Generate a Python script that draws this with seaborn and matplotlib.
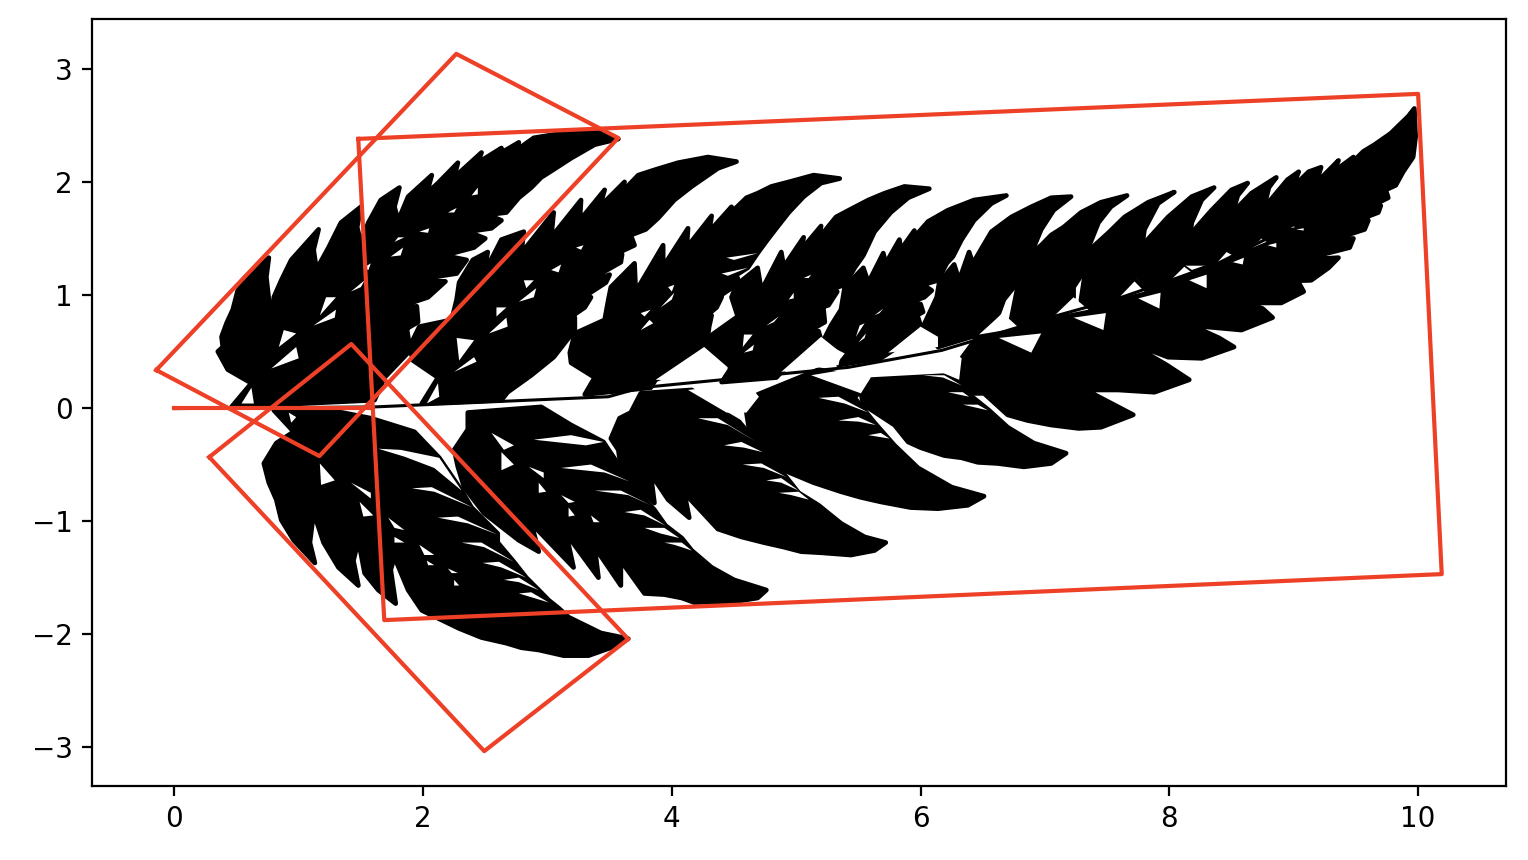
# Helecho: siluetas leidas a ojo de la imagen, en unidades de los ejes
import seaborn as sns
import matplotlib.pyplot as plt

RED = '#EE4027'

# Cuadrilateros rojos
box_main = [(1.479, 2.381), (10.0, 2.779), (10.19, -1.469), (1.688, -1.876)]
box_upper = [(-0.145, 0.336), (2.267, 3.133), (3.569, 2.389), (1.166, -0.425)]
box_lower = [(0.281, -0.434), (1.423, 0.566), (3.65, -2.044), (2.492, -3.035)]
box_stem = [(0.0, 0.0), (1.6, 0.0)]

# Nervio central
rachis = [(0, -0.005), (1.61, 0.01), (3.49, 0.10), (3.75, 0.18), (5.42, 0.36), (6.17, 0.51),
          (7.07, 0.81), (7.59, 0.97), (8.01, 1.13), (8.39, 1.28), (8.95, 1.59), (9.46, 1.93), (9.9, 2.45)]

# Frondas superiores
frond_a = [(0.46, 0.01), (0.62, 0.22), (0.54, 0.27), (0.43, 0.34), (0.35, 0.50), (0.39, 0.54), (0.38, 0.63),
           (0.42, 0.75), (0.47, 0.87), (0.51, 1.04), (0.62, 1.19), (0.76, 1.33), (0.74, 1.16), (0.76, 0.96),
           (0.80, 0.87), (0.80, 0.98), (0.86, 1.13), (0.94, 1.31), (1.16, 1.58), (1.12, 1.40), (1.14, 1.25),
           (1.21, 1.16), (1.17, 1.28), (1.24, 1.42), (1.34, 1.64), (1.50, 1.78), (1.47, 1.60), (1.50, 1.46),
           (1.56, 1.64), (1.66, 1.84), (1.81, 1.95), (1.77, 1.78), (1.80, 1.66), (1.88, 1.87), (2.07, 2.06),
           (2.03, 1.90), (2.12, 1.99), (2.28, 2.17), (2.25, 2.04), (2.47, 2.26), (2.44, 2.17), (2.63, 2.30),
           (2.60, 2.24), (2.77, 2.35), (2.75, 2.28), (2.89, 2.39), (3.11, 2.43), (3.41, 2.44), (3.57, 2.38),
           (3.38, 2.33), (3.19, 2.21), (3.05, 2.11), (2.95, 2.04), (2.87, 1.95), (2.77, 1.86), (2.67, 1.73),
           (2.52, 1.71), (2.63, 1.66), (2.55, 1.59), (2.36, 1.56), (2.50, 1.50), (2.41, 1.42), (2.17, 1.35),
           (2.35, 1.31), (2.27, 1.19), (1.91, 1.13), (2.18, 1.12), (2.04, 0.98), (1.66, 0.84), (1.95, 0.90),
           (1.96, 0.76), (1.61, 0.54), (1.87, 0.70), (1.89, 0.56), (1.88, 0.49), (1.69, 0.27), (1.61, 0.07)]
frond_b = [(1.99, 0.04), (2.12, 0.27), (1.92, 0.42), (1.89, 0.54), (1.97, 0.72), (2.23, 0.78), (2.27, 0.96),
           (2.29, 1.11), (2.40, 1.31), (2.52, 1.38), (2.49, 1.19), (2.63, 1.49), (2.81, 1.56), (2.79, 1.37),
           (3.05, 1.73), (3.03, 1.51), (3.27, 1.84), (3.26, 1.66), (3.46, 1.93), (3.42, 1.78), (3.62, 2.00),
           (3.59, 1.90), (3.73, 2.06), (3.87, 2.11), (4.05, 2.17), (4.29, 2.22), (4.52, 2.18), (4.37, 2.12),
           (4.16, 1.96), (4.02, 1.84), (3.89, 1.68), (3.79, 1.58), (3.41, 1.42), (3.68, 1.50), (3.70, 1.44),
           (3.33, 1.25), (3.60, 1.36), (3.59, 1.29), (3.19, 1.04), (3.50, 1.18), (3.47, 1.11), (3.01, 0.78),
           (3.35, 0.98), (3.30, 0.89), (2.77, 0.49), (3.22, 0.80), (3.22, 0.69), (3.05, 0.45), (2.87, 0.29),
           (2.68, 0.14), (2.63, 0.07)]
frond_c = [(3.30, 0.12), (3.38, 0.27), (3.19, 0.40), (3.18, 0.49), (3.22, 0.66), (3.46, 0.78), (3.49, 0.96),
           (3.51, 1.07), (3.70, 1.28), (3.71, 1.03), (3.93, 1.44), (3.93, 1.25), (4.13, 1.59), (4.12, 1.42),
           (4.32, 1.70), (4.30, 1.56), (4.48, 1.78), (4.44, 1.69), (4.60, 1.86), (4.69, 1.90), (4.80, 1.96),
           (4.94, 2.00), (5.14, 2.06), (5.35, 2.03), (5.20, 1.99), (5.06, 1.87), (4.94, 1.73), (4.84, 1.59),
           (4.77, 1.49), (4.69, 1.37), (4.61, 1.24), (4.26, 1.00), (4.53, 1.15), (4.52, 1.09), (4.10, 0.78),
           (4.40, 0.98), (4.36, 0.89), (3.94, 0.51), (4.32, 0.82), (4.30, 0.72), (4.28, 0.56), (4.16, 0.42),
           (4.02, 0.32), (3.87, 0.25), (3.83, 0.18)]
frond_d = [(4.40, 0.23), (4.48, 0.36), (4.38, 0.40), (4.28, 0.51), (4.30, 0.63), (4.53, 0.81), (4.48, 0.98),
           (4.52, 1.09), (4.69, 1.24), (4.72, 1.04), (4.88, 1.38), (4.90, 1.25), (5.06, 1.51), (5.04, 1.40),
           (5.20, 1.61), (5.18, 1.50), (5.32, 1.69), (5.44, 1.76), (5.58, 1.84), (5.71, 1.90), (5.87, 1.96),
           (6.07, 1.94), (5.90, 1.86), (5.76, 1.73), (5.63, 1.56), (5.54, 1.35), (5.47, 1.24), (5.39, 1.09),
           (5.20, 1.02), (5.33, 1.03), (5.26, 0.91), (5.06, 0.84), (5.22, 0.87), (5.23, 0.76), (4.94, 0.58),
           (5.18, 0.68), (5.20, 0.60), (5.04, 0.44), (4.90, 0.34), (4.84, 0.27)]
frond_e = [(5.34, 0.38), (5.42, 0.49), (5.22, 0.60), (5.28, 0.73), (5.36, 0.87), (5.39, 1.07), (5.54, 1.24),
           (5.58, 1.11), (5.70, 1.37), (5.72, 1.28), (5.83, 1.49), (5.84, 1.40), (5.95, 1.57), (5.94, 1.50),
           (6.06, 1.65), (6.22, 1.75), (6.43, 1.84), (6.69, 1.88), (6.57, 1.81), (6.43, 1.66), (6.33, 1.49),
           (6.26, 1.34), (6.21, 1.28), (6.14, 1.13), (6.02, 1.09), (6.09, 1.04), (6.03, 0.98), (5.90, 0.93),
           (6.00, 0.92), (6.02, 0.85), (5.79, 0.71), (5.98, 0.80), (6.00, 0.73), (5.87, 0.58), (5.75, 0.49),
           (5.68, 0.44)]
frond_f = [(6.14, 0.54), (6.02, 0.72), (6.13, 0.98), (6.15, 1.11), (6.27, 1.27), (6.31, 1.13), (6.39, 1.38),
           (6.42, 1.28), (6.57, 1.56), (6.73, 1.69), (6.89, 1.78), (7.05, 1.86), (7.21, 1.87), (7.07, 1.75),
           (6.97, 1.58), (6.89, 1.37), (6.79, 1.22), (6.78, 1.11), (6.67, 0.96), (6.63, 0.84), (6.47, 0.65)]
frond_g = [(6.78, 1.07), (6.82, 1.31), (6.97, 1.44), (7.05, 1.53), (7.15, 1.60), (7.29, 1.73), (7.45, 1.82),
           (7.66, 1.88), (7.53, 1.78), (7.43, 1.64), (7.35, 1.42), (7.32, 1.22), (7.23, 1.07), (7.23, 0.98),
           (7.07, 0.81), (6.70, 0.63)]
frond_h = [(7.29, 0.96), (7.33, 1.25), (7.36, 1.40), (7.51, 1.55), (7.64, 1.69), (7.83, 1.82), (8.04, 1.91),
           (7.91, 1.81), (7.80, 1.58), (7.77, 1.34), (7.72, 1.12), (7.80, 1.03), (7.59, 0.97), (7.29, 0.78)]
frond_i = [(7.75, 1.07), (7.79, 1.34), (7.80, 1.46), (7.99, 1.69), (8.18, 1.87), (8.36, 1.95), (8.26, 1.84),
           (8.18, 1.64), (8.16, 1.46), (8.11, 1.25), (8.19, 1.19), (8.01, 1.13)]
frond_j = [(8.14, 1.28), (8.18, 1.55), (8.34, 1.75), (8.50, 1.93), (8.63, 1.99), (8.55, 1.88), (8.50, 1.69),
           (8.48, 1.42), (8.46, 1.38), (8.51, 1.35), (8.38, 1.28)]
# Punta del helecho y lobulos inferiores de la derecha
frond_tail = [(8.47, 1.49), (8.51, 1.73), (8.66, 1.90), (8.86, 2.04), (8.80, 1.95), (8.76, 1.77), (8.95, 2.02),
              (9.04, 2.09), (8.99, 1.95), (9.12, 2.09), (9.22, 2.13), (9.18, 1.99), (9.36, 2.19), (9.32, 2.09),
              (9.48, 2.22), (9.45, 2.15), (9.56, 2.27), (9.65, 2.33), (9.78, 2.43), (9.92, 2.58), (9.97, 2.65),
              (9.98, 2.40), (9.96, 2.22), (9.88, 2.09), (9.82, 1.97), (9.74, 1.93), (9.76, 1.86), (9.56, 1.75),
              (9.70, 1.79), (9.68, 1.73), (9.42, 1.62), (9.60, 1.66), (9.57, 1.58), (9.26, 1.47), (9.48, 1.50),
              (9.45, 1.42), (9.06, 1.31), (9.36, 1.33), (9.28, 1.24), (9.14, 1.13), (8.84, 1.12), (9.05, 1.09),
              (9.08, 1.03), (8.90, 0.93), (8.63, 0.93), (8.47, 0.98), (8.75, 0.88), (8.83, 0.80), (8.58, 0.69),
              (8.28, 0.72), (8.12, 0.76), (8.40, 0.62), (8.52, 0.54), (8.26, 0.44), (7.99, 0.45), (7.80, 0.53),
              (7.67, 0.58), (7.98, 0.38), (8.16, 0.25), (7.88, 0.14), (7.59, 0.16), (7.32, 0.16), (7.13, 0.40),
              (7.25, 0.25), (7.38, 0.13), (7.71, -0.06), (7.45, -0.17), (7.27, -0.18), (7.05, -0.15), (6.86, -0.11),
              (6.70, -0.06), (6.51, 0.13), (6.38, 0.13), (6.31, 0.25), (6.33, 0.44), (6.47, 0.65), (7.59, 0.97),
              (8.39, 1.28)]

# Frondas inferiores
frond_l4 = [(5.58, 0.25), (5.52, 0.13), (5.54, 0.03), (5.79, -0.15), (5.90, -0.30), (6.00, -0.35), (6.19, -0.42),
            (6.33, -0.44), (6.46, -0.48), (6.62, -0.49), (6.83, -0.52), (7.05, -0.49), (7.17, -0.40), (6.91, -0.31),
            (6.70, -0.17), (6.55, -0.02), (6.38, 0.13), (6.25, 0.29)]
frond_l3 = [(4.69, 0.12), (4.60, -0.04), (4.62, -0.18), (4.69, -0.37), (4.90, -0.55), (5.14, -0.66), (5.36, -0.74),
            (5.52, -0.79), (5.68, -0.83), (5.92, -0.88), (6.14, -0.89), (6.38, -0.86), (6.51, -0.78), (6.25, -0.70),
            (5.98, -0.53), (5.79, -0.33), (5.63, -0.13), (5.47, 0.09), (5.58, 0.25), (5.18, 0.34)]
frond_l2 = [(3.75, 0.13), (3.67, -0.04), (3.58, -0.09), (3.51, -0.27), (3.57, -0.37), (3.59, -0.52), (3.70, -0.66),
            (3.86, -0.84), (3.83, -0.58), (3.97, -0.81), (4.14, -0.97), (4.10, -0.75), (4.37, -1.07), (4.56, -1.14),
            (4.74, -1.19), (4.90, -1.23), (5.04, -1.27), (5.20, -1.28), (5.44, -1.30), (5.63, -1.26), (5.72, -1.19),
            (5.55, -1.14), (5.36, -1.02), (5.18, -0.86), (5.02, -0.75), (4.92, -0.61), (4.73, -0.39), (4.68, -0.30),
            (4.54, -0.12), (4.34, 0.01), (4.16, 0.16)]
frond_l1 = [(2.36, -0.04), (2.36, -0.19), (2.25, -0.37), (2.28, -0.52), (2.33, -0.70), (2.49, -0.93), (2.77, -1.17),
            (2.93, -1.27), (2.87, -1.02), (3.21, -1.41), (3.15, -1.11), (3.41, -1.50), (3.38, -1.23), (3.59, -1.57),
            (3.59, -1.35), (3.78, -1.64), (3.94, -1.65), (4.08, -1.68), (4.18, -1.72), (4.52, -1.71), (4.69, -1.68),
            (4.76, -1.61), (4.50, -1.52), (4.32, -1.41), (4.16, -1.26), (4.08, -1.15), (3.95, -1.04), (3.86, -0.90),
            (3.65, -0.65), (3.59, -0.53), (3.45, -0.30), (3.19, -0.15), (2.95, 0.01)]
frond_low = [(0.80, -0.02), (0.96, -0.21), (0.82, -0.31), (0.72, -0.49), (0.76, -0.66), (0.82, -0.81), (0.86, -0.99),
             (0.96, -1.17), (1.13, -1.37), (1.09, -1.19), (1.12, -0.93), (1.14, -0.99), (1.20, -1.19), (1.32, -1.41),
             (1.48, -1.57), (1.44, -1.35), (1.48, -1.17), (1.53, -1.46), (1.64, -1.61), (1.78, -1.73), (1.74, -1.43),
             (1.77, -1.32), (1.88, -1.61), (1.99, -1.79), (2.29, -1.95), (2.47, -2.03), (2.67, -2.08), (2.79, -2.12),
             (2.93, -2.14), (3.13, -2.19), (3.33, -2.19), (3.51, -2.12), (3.65, -2.04), (3.43, -1.99), (3.17, -1.85),
             (3.09, -1.77), (3.01, -1.70), (2.93, -1.61), (2.83, -1.50), (2.73, -1.36), (2.60, -1.19), (2.60, -1.11),
             (2.39, -0.88), (2.31, -0.73), (2.13, -0.44), (1.93, -0.21), (1.58, -0.09), (1.26, -0.02)]

fronds = [frond_a, frond_b, frond_c, frond_d, frond_e, frond_f, frond_g, frond_h, frond_i, frond_j, frond_tail,
          frond_l4, frond_l3, frond_l2, frond_l1, frond_low]

# Huecos blancos entre lobulos
gaps_top = [
    [(0.78, 0.35), (0.98, 0.54), (1.00, 0.44)], [(0.84, 0.54), (0.98, 0.66), (0.88, 0.69)],
    [(1.12, 0.73), (1.30, 0.87), (1.29, 0.80)], [(1.17, 0.82), (1.30, 0.98), (1.22, 0.98)],
    [(1.42, 1.03), (1.53, 1.13), (1.50, 1.07)], [(1.52, 1.24), (1.58, 1.28), (1.56, 1.22)],
    [(1.74, 1.34), (1.84, 1.42), (1.82, 1.35)], [(1.77, 1.47), (1.85, 1.51), (1.80, 1.51)],
    [(1.97, 1.56), (2.05, 1.59), (2.04, 1.55)], [(2.20, 1.73), (2.27, 1.77), (2.25, 1.73)],
    [(2.39, 1.88), (2.44, 1.95), (2.44, 1.89)], [(2.81, 1.13), (2.89, 1.13), (2.83, 1.06)],
    [(2.77, 0.94), (2.91, 1.06), (2.89, 0.98)], [(2.59, 0.89), (2.67, 0.89), (2.59, 0.81)],
    [(2.53, 0.66), (2.67, 0.80), (2.68, 0.72)], [(2.27, 0.62), (2.41, 0.60), (2.29, 0.42)],
    [(2.25, 0.32), (2.41, 0.45), (2.43, 0.41)], [(3.03, 1.22), (3.11, 1.27), (3.09, 1.20)],
    [(3.23, 1.42), (3.29, 1.44), (3.27, 1.40)], [(3.75, 0.84), (3.83, 0.87), (3.78, 0.81)],
    [(3.75, 0.69), (3.85, 0.75), (3.82, 0.78)], [(3.91, 0.89), (4.02, 1.02), (4.00, 0.96)],
    [(3.97, 1.07), (4.02, 1.09), (4.00, 1.03)], [(4.57, 0.54), (4.65, 0.65), (4.58, 0.65)],
    [(4.58, 0.49), (4.66, 0.56), (4.65, 0.51)], [(4.76, 0.73), (4.86, 0.81), (4.82, 0.76)],
    [(4.94, 0.96), (4.98, 1.02), (4.98, 0.97)], [(5.06, 1.15), (5.12, 1.18), (5.10, 1.15)],
    [(5.48, 0.63), (5.55, 0.75), (5.51, 0.73)], [(5.50, 0.58), (5.56, 0.66), (5.55, 0.62)],
    [(5.63, 0.82), (5.70, 0.88), (5.67, 0.84)],
    [(0.54, 0.04), (0.62, 0.18), (0.64, 0.04)], [(2.03, 0.04), (2.12, 0.22), (2.13, 0.10)],
    [(4.40, 1.19), (4.61, 1.24), (4.45, 1.17)], [(4.44, 1.33), (4.69, 1.37), (4.50, 1.31)],
]
gaps_rachis = [
    [(4.88, 0.32), (5.20, 0.63), (5.36, 0.49), (5.34, 0.38)],
    [(5.12, 0.29), (5.50, 0.36), (5.60, 0.27), (5.52, 0.13)],
    [(3.87, 0.25), (4.26, 0.54), (4.45, 0.36), (4.38, 0.23)],
    [(4.13, 0.16), (4.61, 0.22), (4.70, 0.10), (4.60, -0.04), (4.44, -0.04)],
    [(5.95, 0.45), (6.25, 0.51), (6.33, 0.44), (6.31, 0.25), (6.03, 0.38)],
    [(5.74, 0.49), (6.00, 0.72), (6.14, 0.63), (6.14, 0.54)],
    [(6.63, 0.62), (6.97, 0.66), (6.89, 0.49)], [(7.23, 0.80), (7.49, 0.84), (7.47, 0.69)],
    [(7.75, 0.97), (7.93, 1.02), (7.92, 0.88)], [(8.16, 1.13), (8.30, 1.18), (8.30, 1.06)],
    [(8.51, 1.29), (8.60, 1.33), (8.59, 1.27)], [(8.79, 1.44), (8.86, 1.46), (8.86, 1.42)],
    [(9.02, 1.58), (9.08, 1.59), (9.08, 1.57)],
    [(6.47, 0.65), (6.66, 0.84), (6.79, 0.71)], [(7.07, 0.81), (7.23, 0.98), (7.35, 0.87)],
    [(7.59, 0.97), (7.72, 1.12), (7.80, 1.03)], [(8.01, 1.13), (8.12, 1.25), (8.19, 1.19)],
    [(8.38, 1.28), (8.46, 1.38), (8.51, 1.35)], [(8.67, 1.42), (8.74, 1.50), (8.78, 1.47)],
    [(8.92, 1.58), (8.98, 1.62), (9.01, 1.60)],
]
gaps_lower = [
    [(2.89, -0.28), (3.19, -0.24), (3.45, -0.30), (3.31, -0.33)],
    [(3.11, -0.53), (3.35, -0.50), (3.66, -0.65), (3.46, -0.57)],
    [(3.38, -0.73), (3.59, -0.73), (3.83, -0.86), (3.65, -0.77)],
    [(3.62, -0.92), (3.75, -0.90), (3.95, -1.04), (3.78, -0.95)],
    [(3.78, -1.06), (3.94, -1.06), (4.06, -1.15), (3.91, -1.11)],
    [(3.94, -1.19), (4.08, -1.19), (4.16, -1.26), (4.02, -1.21)],
    [(4.21, -0.09), (4.37, -0.09), (4.68, -0.30), (4.45, -0.15)],
    [(4.42, -0.33), (4.56, -0.30), (4.73, -0.39), (4.58, -0.35)],
    [(4.57, -0.50), (4.72, -0.49), (4.92, -0.61), (4.74, -0.53)],
    [(4.76, -0.64), (4.88, -0.62), (5.02, -0.73), (4.88, -0.66)],
    [(4.86, -0.75), (5.02, -0.74), (5.10, -0.81), (4.96, -0.77)],
    [(5.18, 0.09), (5.34, 0.10), (5.58, -0.04), (5.39, 0.04)],
    [(5.34, -0.11), (5.50, -0.08), (5.64, -0.15), (5.50, -0.12)],
    [(5.58, -0.24), (5.68, -0.22), (5.75, -0.27)],
    [(6.02, 0.29), (6.19, 0.29), (6.33, 0.20), (6.18, 0.27)],
    [(6.22, 0.14), (6.34, 0.14), (6.39, 0.10)], [(6.34, 0.03), (6.46, 0.03), (6.54, -0.02)],
    [(1.64, -0.36), (1.82, -0.37), (2.13, -0.44), (2.31, -0.73), (2.09, -0.53), (1.85, -0.43)],
    [(1.91, -0.71), (2.07, -0.70), (2.40, -0.88), (2.09, -0.74)],
    [(2.12, -0.97), (2.28, -0.96), (2.60, -1.12), (2.36, -1.02)],
    [(2.31, -1.19), (2.47, -1.19), (2.73, -1.36), (2.49, -1.23)],
    [(2.48, -1.37), (2.61, -1.36), (2.83, -1.50), (2.63, -1.41)],
    [(2.65, -1.52), (2.77, -1.50), (2.93, -1.61), (2.77, -1.54)],
    [(2.77, -1.64), (2.87, -1.63), (3.01, -1.72)],
    [(1.17, -0.49), (1.29, -0.64), (1.18, -0.68)], [(1.42, -0.66), (1.58, -0.80), (1.58, -0.75)],
    [(1.49, -0.83), (1.60, -0.95), (1.52, -0.96)], [(1.72, -0.97), (1.85, -1.08), (1.77, -1.06)],
    [(1.77, -1.14), (1.85, -1.19), (1.77, -1.19)], [(1.97, -1.21), (2.09, -1.30), (2.01, -1.30)],
    [(2.03, -1.35), (2.09, -1.39), (2.04, -1.39)], [(2.20, -1.42), (2.28, -1.46), (2.23, -1.46)],
    [(2.25, -1.52), (2.29, -1.57), (2.25, -1.57)],
    [(2.55, -0.22), (2.73, -0.33), (2.65, -0.37)], [(2.63, -0.39), (2.73, -0.50), (2.63, -0.55)],
    [(2.85, -0.52), (2.97, -0.62), (2.97, -0.57)], [(2.93, -0.66), (2.99, -0.74), (2.93, -0.75)],
    [(3.11, -0.77), (3.22, -0.83), (3.17, -0.84)], [(3.17, -0.88), (3.22, -0.95), (3.17, -0.96)],
    [(3.35, -0.95), (3.42, -1.01), (3.37, -1.01)], [(0.92, -0.04), (0.98, -0.08), (0.94, -0.13)],
]


def draw_line(ax, pts, color, lw):
    xs, ys = zip(*pts)
    sns.lineplot(x=list(xs), y=list(ys), sort=False, estimator=None, color=color, linewidth=lw, ax=ax, zorder=5)


fig, ax = plt.subplots(figsize=(7.64, 4.3), dpi=200)

# El trazo grueso redondea los lobulos
for poly in fronds:
    xs, ys = zip(*poly)
    ax.fill(xs, ys, color='black', linewidth=1.7, joinstyle='round', zorder=2)

for poly in gaps_top + gaps_rachis + gaps_lower:
    xs, ys = zip(*poly)
    ax.fill(xs, ys, color='white', linewidth=0, zorder=3)

draw_line(ax, rachis, 'black', 1.1)

for box in [box_main, box_upper, box_lower]:
    draw_line(ax, box + box[:1], RED, 1.5)
draw_line(ax, box_stem, RED, 1.5)

fig.subplots_adjust(left=92 / 1528, right=1506 / 1528, top=1 - 19 / 860, bottom=1 - 786 / 860)
plt.savefig('out.png')
